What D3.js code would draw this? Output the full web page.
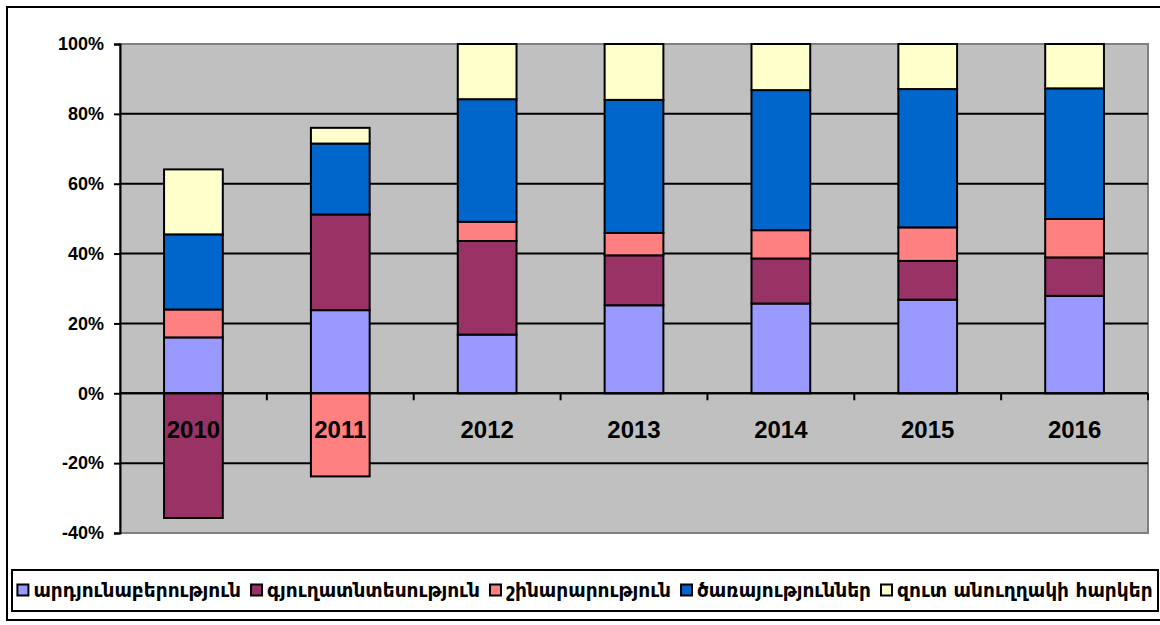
<!DOCTYPE html>
<html>
<head>
<meta charset="utf-8">
<script src="https://cdn.jsdelivr.net/npm/d3@7"></script>
<style>
  html, body { margin: 0; padding: 0; background: #fff; }
  svg { display: block; }
</style>
</head>
<body>
<svg id="chart" width="1160" height="625"></svg>
<script>
const years = ["2010", "2011", "2012", "2013", "2014", "2015", "2016"];
const seriesNames = ["արդյունաբերություն", "գյուղատնտեսություն", "շինարարություն", "ծառայություններ", "զուտ անուղղակի հարկեր"];
const seriesColors = ["#9999FF", "#993366", "#FF8080", "#0066CC", "#FFFFCC"];
const industry     = [16.0, 23.8, 16.8, 25.2, 25.7, 26.8, 27.9];
const agriculture  = [-35.7, 27.4, 26.8, 14.3, 12.9, 11.1, 11.0];
const construction = [8.0, -23.8, 5.5, 6.4, 8.1, 9.6, 11.0];
const services     = [21.5, 20.3, 35.1, 38.1, 40.1, 39.6, 37.4];
const netTaxes     = [18.6, 4.5, 15.8, 16.0, 13.2, 12.9, 12.7];
const yTicks = [-40, -20, 0, 20, 40, 60, 80, 100];

const seriesValues = [industry, agriculture, construction, services, netTaxes];

(function () {
const svg = d3.select("#chart");
const pL = 120, pR = 1148, pT = 44, pB = 533;

// outer border
svg.append("rect").attr("x", 7).attr("y", 7).attr("width", 1160).attr("height", 613)
  .attr("fill", "#fff").attr("stroke", "#000").attr("stroke-width", 2);

const x = d3.scaleBand().domain(years).range([pL, pR]).paddingInner(0).paddingOuter(0);
const y = d3.scaleLinear().domain([-40, 100]).range([pB, pT]);

// plot area
svg.append("rect").attr("x", pL).attr("y", pT).attr("width", pR - pL).attr("height", pB - pT)
  .attr("fill", "#C0C0C0").attr("stroke", "#808080").attr("stroke-width", 2);

// gridlines
svg.append("g").selectAll("line").data(yTicks.filter(t => t > -40 && t < 100)).join("line")
  .attr("x1", pL).attr("x2", pR).attr("y1", d => y(d)).attr("y2", d => y(d))
  .attr("stroke", "#000").attr("stroke-width", 2);

// stack data (positive upward, negative downward)
const rects = [];
years.forEach((yr, i) => {
  let pos = 0, neg = 0;
  seriesValues.forEach((vals, s) => {
    const v = vals[i];
    let y0, y1;
    if (v >= 0) { y0 = pos; y1 = pos + v; pos = y1; }
    else { y0 = neg; y1 = neg + v; neg = y1; }
    rects.push({ year: yr, s, y0, y1 });
  });
});

const barW = x.bandwidth() * 0.4;
svg.append("g").selectAll("rect").data(rects).join("rect")
  .attr("x", d => x(d.year) + (x.bandwidth() - barW) / 2)
  .attr("width", barW)
  .attr("y", d => y(Math.max(d.y0, d.y1)))
  .attr("height", d => Math.abs(y(d.y0) - y(d.y1)))
  .attr("fill", d => seriesColors[d.s])
  .attr("stroke", "#000").attr("stroke-width", 2);

// y axis
const yAxis = d3.axisLeft(y).tickValues(yTicks).tickFormat(d => d + "%").tickSize(6).tickPadding(10);
const ya = svg.append("g").attr("transform", `translate(${pL},0)`).call(yAxis);
ya.select(".domain").attr("stroke", "#000").attr("stroke-width", 2);
ya.selectAll(".tick line").attr("stroke", "#000").attr("stroke-width", 2);
ya.selectAll(".tick text").attr("font-family", "Liberation Sans, Arial, sans-serif")
  .attr("font-weight", "bold").attr("font-size", 18).attr("fill", "#000");

// zero axis with category ticks
svg.append("line").attr("x1", pL).attr("x2", pR).attr("y1", y(0)).attr("y2", y(0))
  .attr("stroke", "#000").attr("stroke-width", 2);
const bounds = years.map(yr => x(yr) + x.bandwidth());
svg.append("g").selectAll("line").data(bounds).join("line")
  .attr("x1", d => d).attr("x2", d => d).attr("y1", y(0)).attr("y2", y(0) + 7)
  .attr("stroke", "#000").attr("stroke-width", 2);

// category labels
svg.append("g").selectAll("text").data(years).join("text")
  .attr("x", d => x(d) + x.bandwidth() / 2)
  .attr("y", 438)
  .attr("text-anchor", "middle")
  .attr("font-family", "Liberation Sans, Arial, sans-serif")
  .attr("font-weight", "bold").attr("font-size", 24).attr("fill", "#000")
  .text(d => d);

// legend
const lgX = 12, lgY = 570, lgW = 1146, lgH = 41;
svg.append("rect").attr("x", lgX).attr("y", lgY).attr("width", lgW).attr("height", lgH)
  .attr("fill", "#fff").attr("stroke", "#000").attr("stroke-width", 2);
const lg = svg.append("g");
const items = lg.selectAll("g").data(seriesNames).join("g");
items.append("rect").attr("width", 11).attr("height", 11).attr("y", -6)
  .attr("fill", (d, i) => seriesColors[i]).attr("stroke", "#000").attr("stroke-width", 2);
const txt = items.append("text").attr("x", 16).attr("y", 0).attr("dy", "0.35em")
  .attr("font-family", "DejaVu Sans, sans-serif").attr("font-weight", "bold")
  .attr("font-size", 15).attr("fill", "#000").text(d => d);
// fit font to legend width
const gap = 10, avail = 1136;
let tl = 0; txt.each(function () { tl += this.getComputedTextLength(); });
const fixed = seriesNames.length * 16 + gap * (seriesNames.length - 1);
const fs = Math.min(19, 15 * (avail - fixed) / tl);
txt.attr("font-size", fs);
const widths = [];
items.each(function () { widths.push(this.getBBox().width); });
const total = d3.sum(widths) + gap * (widths.length - 1);
let cx = lgX + (lgW - total) / 2;
items.attr("transform", (d, i) => { const t = `translate(${cx},${lgY + lgH / 2})`; cx += widths[i] + gap; return t; });
})();
</script>
</body>
</html>
